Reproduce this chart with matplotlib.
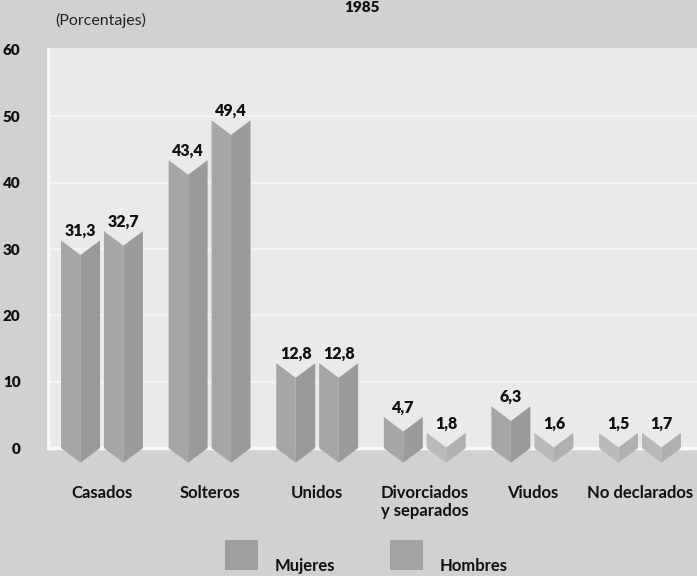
import matplotlib
matplotlib.use("Agg")
from matplotlib import pyplot as plt
from matplotlib.patches import Polygon, Rectangle
import numpy as np

plt.rcParams['font.family'] = ['Lato', 'DejaVu Sans']

categories = ['Casados', 'Solteros', 'Unidos', 'Divorciados\ny separados', 'Viudos', 'No declarados']
mujeres = [31.3, 43.4, 12.8, 4.7, 6.3, 1.5]
hombres = [32.7, 49.4, 12.8, 1.8, 1.6, 1.7]
yticks = [0, 10, 20, 30, 40, 50, 60]

fig = plt.figure(figsize=(6.97, 5.76), dpi=100)
fig.patch.set_facecolor('#d1d1d1')
ax = fig.add_axes([47 / 697, 106 / 576, 650 / 697, 422 / 576])
ax.set_facecolor('none')
ax.set_xlim(-0.511, 5.53)
ax.set_ylim(-3.3, 60.3)

# light plot area with white border lines
ax.add_patch(Rectangle((-0.511, 0), 6.1, 60.3, facecolor='#eaeaea', edgecolor='none', zorder=0))
for v in yticks[1:-1]:
    ax.axhline(v, color='#f6f6f6', lw=1.2, zorder=1)
ax.axhline(0, color='#fafafa', lw=2.5, zorder=1)
ax.plot([-0.5, -0.5], [0, 60.3], color='#fafafa', lw=2.5, zorder=1)

w = 0.362
gap = 0.037
d = 2.2  # chevron notch depth (data units)


def chevron(xc, v):
    top = max(v, 2.3)
    x0, x1 = xc - w / 2, xc + w / 2
    light = '#b9b9b9' if v < 2.3 else '#a6a6a6'
    dark = '#b0b0b0' if v < 2.3 else '#9a9a9a'
    left = [(x0, top), (xc, top - d), (xc, -d), (x0, 0)]
    right = [(xc, top - d), (x1, top), (x1, 0), (xc, -d)]
    ax.add_patch(Polygon(left, closed=True, facecolor=light, edgecolor='none', zorder=2))
    ax.add_patch(Polygon(right, closed=True, facecolor=dark, edgecolor='none', zorder=2))
    ax.text(xc, top + 0.2, f'{v:.1f}'.replace('.', ','), ha='center', va='bottom',
            fontsize=11.5, fontweight='heavy', color='#111111', zorder=3)


x = np.arange(len(categories))
for i in x:
    chevron(i - (w + gap) / 2, mujeres[i])
    chevron(i + (w + gap) / 2, hombres[i])

ax.set_yticks(yticks)
ax.set_yticklabels([str(t) for t in yticks], fontsize=11, fontweight='heavy', color='#111111')
ax.set_xticks(x)
ax.set_xticklabels(categories, fontsize=12, fontweight='bold', color='#111111', linespacing=1.1)
ax.tick_params(axis='y', length=0, pad=19)
ax.tick_params(axis='x', length=0, pad=11)
for s in ax.spines.values():
    s.set_visible(False)

fig.text(55 / 697, 1 - 20 / 576, '(Porcentajes)', fontsize=11.5, color='#222222', va='center')
fig.text(362 / 697, 1 - 7 / 576, '1985', fontsize=11, fontweight='heavy', color='#111111',
         ha='center', va='center')

# legend
fig.add_artist(Rectangle((225 / 697, 6 / 576), 33 / 697, 30 / 576, transform=fig.transFigure,
                         facecolor='#9e9e9e', edgecolor='none'))
fig.add_artist(Rectangle((390 / 697, 6 / 576), 33 / 697, 30 / 576, transform=fig.transFigure,
                         facecolor='#a3a3a3', edgecolor='none'))
fig.text(275 / 697, 2 / 576, 'Mujeres', fontsize=12, fontweight='bold', color='#111111', va='bottom')
fig.text(440 / 697, 2 / 576, 'Hombres', fontsize=12, fontweight='bold', color='#111111', va='bottom')

plt.savefig('out.png', dpi=100, facecolor=fig.get_facecolor())
